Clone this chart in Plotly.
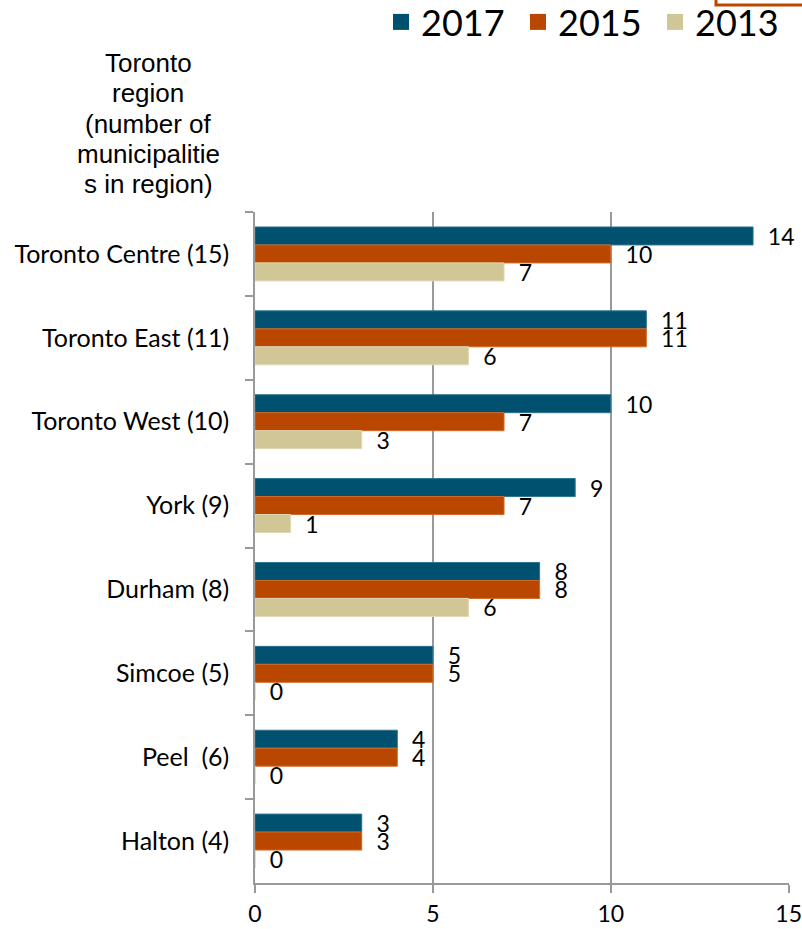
import plotly.graph_objects as go

categories = ["Toronto Centre (15)", "Toronto East (11)", "Toronto West (10)", "York (9)",
              "Durham (8)", "Simcoe (5)", "Peel  (6)", "Halton (4)"]
v2017 = [14, 11, 10, 9, 8, 5, 4, 3]
v2015 = [10, 11, 7, 7, 8, 5, 4, 3]
v2013 = [7, 6, 3, 1, 6, 0, 0, 0]
series = [("2017", v2017, "#00506F", "#2E7391"),
          ("2015", v2015, "#B94700", "#D06A2A"),
          ("2013", v2013, "#D0C696", "#E0D8B4")]
xticks = [0, 5, 10, 15]
title_lines = ["Toronto", "region", "(number of", "municipalitie", "s in region)"]

LAB = "Lato"
fig = go.Figure()
for name, vals, col, edge in series:
    fig.add_trace(go.Bar(
        y=categories, x=vals, orientation="h", name=name,
        marker=dict(color=col, line=dict(color=edge, width=1)),
        text=vals, texttemplate="  %{x}", textposition="outside",
        constraintext="none",
        textfont=dict(family=LAB, size=23, color="black"),
        cliponaxis=False, showlegend=False, hoverinfo="skip"))
for name, vals, col, edge in series:
    fig.add_trace(go.Scatter(
        x=[None], y=[None], mode="markers", name=name,
        marker=dict(symbol="square", size=24, color=col), showlegend=True))

fig.update_layout(
    width=802, height=929,
    margin=dict(l=255, r=13, t=212, b=46, autoexpand=False),
    plot_bgcolor="white", paper_bgcolor="white",
    barmode="group", bargap=0.357, bargroupgap=0,
    font=dict(family=LAB, color="black"),
    legend=dict(orientation="h", xref="paper", yref="paper",
                x=1.0 + 3 / 534, xanchor="right", y=(883 + 8) / 671, yanchor="top",
                font=dict(family=LAB, size=36), itemwidth=30,
                entrywidth=92, entrywidthmode="pixels",
                tracegroupgap=0, bgcolor="rgba(0,0,0,0)"),
    xaxis=dict(range=[0, 15.01], tickvals=xticks, ticktext=[str(t) for t in xticks],
               showgrid=True, gridcolor="#999999", gridwidth=1.5,
               showline=True, linecolor="#999999", linewidth=1.5,
               ticks="outside", ticklen=8, tickcolor="#999999", tickwidth=1.5,
               tickfont=dict(family=LAB, size=23), ticklabelstandoff=2,
               ticklabeloverflow="allow", automargin=False,
               zeroline=False, fixedrange=True),
    yaxis=dict(categoryorder="array", categoryarray=categories, autorange="reversed",
               showline=True, linecolor="#999999", linewidth=1.5,
               ticks="outside", ticklen=8, tickcolor="#999999", tickwidth=1.5,
               tickson="boundaries", showgrid=False, automargin=False,
               tickfont=dict(family=LAB, size=25), ticklabelstandoff=19),
)
for i, line in enumerate(title_lines):
    fig.add_annotation(
        text=line, xref="paper", yref="paper",
        x=(148 - 255) / 534, y=(883 - (63 + 30.3 * i)) / 671,
        xanchor="center", yanchor="middle", showarrow=False,
        font=dict(family="Liberation Sans", size=26, color="black"))
fig.add_shape(type="rect", xref="paper", yref="paper",
              x0=(716 - 255) / 534, x1=1.2, y0=(883 - 5) / 671, y1=1.5,
              line=dict(color="#B94700", width=3), fillcolor="rgba(0,0,0,0)")
fig.write_html("out.html")
